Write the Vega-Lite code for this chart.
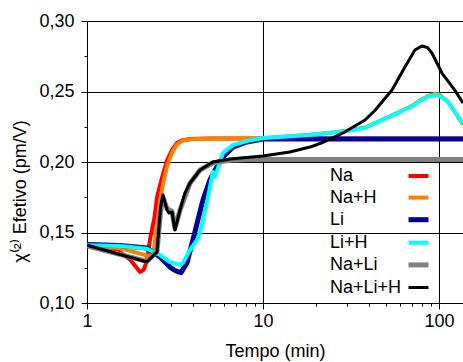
{
  "$schema": "https://vega.github.io/schema/vega-lite/v6.json",
  "width": 376,
  "height": 282,
  "autosize": "none",
  "padding": {"left": 87, "top": 21, "right": 0, "bottom": 59},
  "background": "white",
  "config": {
    "view": {"stroke": null},
    "font": "Liberation Sans",
    "axis": {
      "domainColor": "black",
      "tickColor": "black",
      "labelColor": "black",
      "titleColor": "black",
      "labelFont": "Liberation Sans",
      "titleFont": "Liberation Sans",
      "labelFontSize": 18,
      "titleFontSize": 18,
      "titleFontWeight": "normal",
      "gridColor": "black",
      "gridWidth": 1
    },
    "legend": {"labelFont": "Liberation Sans"}
  },
  "data": {"values": [
    {"s": "Na", "t": 1, "v": 0.141},
    {"s": "Na", "t": 1.3, "v": 0.1385},
    {"s": "Na", "t": 1.54, "v": 0.136},
    {"s": "Na", "t": 1.75, "v": 0.131},
    {"s": "Na", "t": 1.9, "v": 0.1255},
    {"s": "Na", "t": 2.0, "v": 0.122},
    {"s": "Na", "t": 2.1, "v": 0.1235},
    {"s": "Na", "t": 2.19, "v": 0.13},
    {"s": "Na", "t": 2.28, "v": 0.145},
    {"s": "Na", "t": 2.42, "v": 0.161},
    {"s": "Na", "t": 2.5, "v": 0.175},
    {"s": "Na", "t": 2.67, "v": 0.189},
    {"s": "Na", "t": 2.85, "v": 0.201},
    {"s": "Na", "t": 3.04, "v": 0.2085},
    {"s": "Na", "t": 3.25, "v": 0.2135},
    {"s": "Na", "t": 3.5, "v": 0.2155},
    {"s": "Na", "t": 3.85, "v": 0.2163},
    {"s": "Na", "t": 5, "v": 0.2167},
    {"s": "Na", "t": 10, "v": 0.2167},
    {"s": "Na", "t": 137, "v": 0.2167},

    {"s": "Na+H", "t": 1, "v": 0.141},
    {"s": "Na+H", "t": 1.54, "v": 0.139},
    {"s": "Na+H", "t": 2.0, "v": 0.135},
    {"s": "Na+H", "t": 2.28, "v": 0.133},
    {"s": "Na+H", "t": 2.4, "v": 0.138},
    {"s": "Na+H", "t": 2.5, "v": 0.155},
    {"s": "Na+H", "t": 2.6, "v": 0.172},
    {"s": "Na+H", "t": 2.7, "v": 0.184},
    {"s": "Na+H", "t": 2.85, "v": 0.197},
    {"s": "Na+H", "t": 3.04, "v": 0.2065},
    {"s": "Na+H", "t": 3.25, "v": 0.2125},
    {"s": "Na+H", "t": 3.5, "v": 0.2152},
    {"s": "Na+H", "t": 4, "v": 0.2163},
    {"s": "Na+H", "t": 6, "v": 0.2167},
    {"s": "Na+H", "t": 10, "v": 0.2168},
    {"s": "Na+H", "t": 12.5, "v": 0.2178},
    {"s": "Na+H", "t": 18.5, "v": 0.2193},
    {"s": "Na+H", "t": 24, "v": 0.2208},
    {"s": "Na+H", "t": 30, "v": 0.2222},
    {"s": "Na+H", "t": 38, "v": 0.2245},
    {"s": "Na+H", "t": 46.2, "v": 0.2292},
    {"s": "Na+H", "t": 58.5, "v": 0.235},
    {"s": "Na+H", "t": 71.2, "v": 0.2402},
    {"s": "Na+H", "t": 78, "v": 0.2438},
    {"s": "Na+H", "t": 88.7, "v": 0.2473},
    {"s": "Na+H", "t": 95, "v": 0.2482},
    {"s": "Na+H", "t": 100, "v": 0.248},
    {"s": "Na+H", "t": 105, "v": 0.2458},
    {"s": "Na+H", "t": 112.5, "v": 0.2428},
    {"s": "Na+H", "t": 123, "v": 0.2355},
    {"s": "Na+H", "t": 137, "v": 0.2265},

    {"s": "Li", "t": 1, "v": 0.1415},
    {"s": "Li", "t": 1.54, "v": 0.1408},
    {"s": "Li", "t": 2.19, "v": 0.139},
    {"s": "Li", "t": 2.6, "v": 0.1326},
    {"s": "Li", "t": 2.96, "v": 0.1255},
    {"s": "Li", "t": 3.2, "v": 0.1227},
    {"s": "Li", "t": 3.42, "v": 0.1215},
    {"s": "Li", "t": 3.7, "v": 0.1284},
    {"s": "Li", "t": 4.0, "v": 0.1447},
    {"s": "Li", "t": 4.27, "v": 0.1589},
    {"s": "Li", "t": 4.56, "v": 0.173},
    {"s": "Li", "t": 4.99, "v": 0.1872},
    {"s": "Li", "t": 5.47, "v": 0.1965},
    {"s": "Li", "t": 5.93, "v": 0.2035},
    {"s": "Li", "t": 6.75, "v": 0.2106},
    {"s": "Li", "t": 8.11, "v": 0.2142},
    {"s": "Li", "t": 10, "v": 0.2163},
    {"s": "Li", "t": 137, "v": 0.2163},

    {"s": "Li+H", "t": 1, "v": 0.141},
    {"s": "Li+H", "t": 1.54, "v": 0.1405},
    {"s": "Li+H", "t": 2.19, "v": 0.1385},
    {"s": "Li+H", "t": 2.6, "v": 0.134},
    {"s": "Li+H", "t": 2.96, "v": 0.129},
    {"s": "Li+H", "t": 3.38, "v": 0.127},
    {"s": "Li+H", "t": 3.51, "v": 0.1284},
    {"s": "Li+H", "t": 3.85, "v": 0.1376},
    {"s": "Li+H", "t": 4.22, "v": 0.1447},
    {"s": "Li+H", "t": 4.39, "v": 0.1496},
    {"s": "Li+H", "t": 4.56, "v": 0.1589},
    {"s": "Li+H", "t": 4.8, "v": 0.1709},
    {"s": "Li+H", "t": 5.13, "v": 0.1894},
    {"s": "Li+H", "t": 5.2, "v": 0.1929},
    {"s": "Li+H", "t": 5.34, "v": 0.1894},
    {"s": "Li+H", "t": 5.55, "v": 0.1957},
    {"s": "Li+H", "t": 5.93, "v": 0.2064},
    {"s": "Li+H", "t": 6.75, "v": 0.212},
    {"s": "Li+H", "t": 8.11, "v": 0.2149},
    {"s": "Li+H", "t": 10, "v": 0.217},
    {"s": "Li+H", "t": 12.5, "v": 0.2177},
    {"s": "Li+H", "t": 18.5, "v": 0.2191},
    {"s": "Li+H", "t": 24, "v": 0.2206},
    {"s": "Li+H", "t": 30, "v": 0.222},
    {"s": "Li+H", "t": 38, "v": 0.2241},
    {"s": "Li+H", "t": 46.2, "v": 0.229},
    {"s": "Li+H", "t": 58.5, "v": 0.2348},
    {"s": "Li+H", "t": 71.2, "v": 0.2397},
    {"s": "Li+H", "t": 78, "v": 0.2433},
    {"s": "Li+H", "t": 88.7, "v": 0.2468},
    {"s": "Li+H", "t": 97.4, "v": 0.2475},
    {"s": "Li+H", "t": 105, "v": 0.2454},
    {"s": "Li+H", "t": 112.5, "v": 0.2426},
    {"s": "Li+H", "t": 123, "v": 0.2355},
    {"s": "Li+H", "t": 137, "v": 0.227},

    {"s": "Na+Li", "t": 1, "v": 0.1405},
    {"s": "Na+Li", "t": 2.19, "v": 0.1295},
    {"s": "Na+Li", "t": 2.5, "v": 0.1365},
    {"s": "Na+Li", "t": 2.62, "v": 0.165},
    {"s": "Na+Li", "t": 2.7, "v": 0.175},
    {"s": "Na+Li", "t": 2.85, "v": 0.167},
    {"s": "Na+Li", "t": 3.04, "v": 0.165},
    {"s": "Na+Li", "t": 3.16, "v": 0.153},
    {"s": "Na+Li", "t": 3.38, "v": 0.166},
    {"s": "Na+Li", "t": 3.85, "v": 0.185},
    {"s": "Na+Li", "t": 4.39, "v": 0.1943},
    {"s": "Na+Li", "t": 5.2, "v": 0.1995},
    {"s": "Na+Li", "t": 6.5, "v": 0.2013},
    {"s": "Na+Li", "t": 8, "v": 0.2018},
    {"s": "Na+Li", "t": 10, "v": 0.2018},
    {"s": "Na+Li", "t": 137, "v": 0.2018},

    {"s": "Na+Li+H", "t": 1, "v": 0.141},
    {"s": "Na+Li+H", "t": 2.19, "v": 0.1291},
    {"s": "Na+Li+H", "t": 2.5, "v": 0.1362},
    {"s": "Na+Li+H", "t": 2.62, "v": 0.168},
    {"s": "Na+Li+H", "t": 2.7, "v": 0.1766},
    {"s": "Na+Li+H", "t": 2.85, "v": 0.166},
    {"s": "Na+Li+H", "t": 2.92, "v": 0.1638},
    {"s": "Na+Li+H", "t": 3.04, "v": 0.1645},
    {"s": "Na+Li+H", "t": 3.16, "v": 0.1518},
    {"s": "Na+Li+H", "t": 3.38, "v": 0.166},
    {"s": "Na+Li+H", "t": 3.6, "v": 0.178},
    {"s": "Na+Li+H", "t": 3.85, "v": 0.1851},
    {"s": "Na+Li+H", "t": 4.39, "v": 0.1943},
    {"s": "Na+Li+H", "t": 5.2, "v": 0.2},
    {"s": "Na+Li+H", "t": 6.49, "v": 0.2021},
    {"s": "Na+Li+H", "t": 10, "v": 0.2043},
    {"s": "Na+Li+H", "t": 14.2, "v": 0.2071},
    {"s": "Na+Li+H", "t": 18.5, "v": 0.2106},
    {"s": "Na+Li+H", "t": 22, "v": 0.214},
    {"s": "Na+Li+H", "t": 28.5, "v": 0.2206},
    {"s": "Na+Li+H", "t": 38, "v": 0.2298},
    {"s": "Na+Li+H", "t": 43.5, "v": 0.2369},
    {"s": "Na+Li+H", "t": 54.1, "v": 0.2511},
    {"s": "Na+Li+H", "t": 64.1, "v": 0.2674},
    {"s": "Na+Li+H", "t": 73, "v": 0.2794},
    {"s": "Na+Li+H", "t": 80, "v": 0.2823},
    {"s": "Na+Li+H", "t": 86, "v": 0.2812},
    {"s": "Na+Li+H", "t": 91.2, "v": 0.2773},
    {"s": "Na+Li+H", "t": 104, "v": 0.2631},
    {"s": "Na+Li+H", "t": 123, "v": 0.251},
    {"s": "Na+Li+H", "t": 137, "v": 0.2418}
  ]},
  "mark": {"type": "line", "clip": true, "strokeJoin": "round", "strokeCap": "butt"},
  "encoding": {
    "x": {
      "field": "t", "type": "quantitative",
      "scale": {"type": "log", "domain": [1, 137], "nice": false},
      "axis": {
        "title": "Tempo (min)",
        "values": [1, 2, 3, 4, 5, 6, 7, 8, 9, 10, 20, 30, 40, 50, 60, 70, 80, 90, 100],
        "labelExpr": "(datum.value == 1 || datum.value == 10 || datum.value == 100) ? format(datum.value, 'd') : ''",
        "tickSize": {"condition": {"test": "datum.value == 1 || datum.value == 10 || datum.value == 100", "value": 6}, "value": 3},
        "grid": true,
        "gridOpacity": {"condition": {"test": "datum.value == 10 || datum.value == 100", "value": 1}, "value": 0},
        "labelPadding": 3,
        "labelFlush": false,
        "labelOverlap": false,
        "titlePadding": 12
      }
    },
    "y": {
      "field": "v", "type": "quantitative",
      "scale": {"domain": [0.1, 0.3], "nice": false, "zero": false},
      "axis": {
        "title": "χ⁽²⁾ Efetivo (pm/V)",
        "values": [0.1, 0.125, 0.15, 0.175, 0.2, 0.225, 0.25, 0.275, 0.3],
        "labelExpr": "abs(datum.value * 20 - round(datum.value * 20)) < 0.001 ? replace(format(datum.value, '.2f'), '.', ',') : ''",
        "tickSize": {"condition": {"test": "abs(datum.value * 20 - round(datum.value * 20)) < 0.001", "value": 6}, "value": 3},
        "grid": true,
        "gridOpacity": {"condition": {"test": "abs(datum.value * 20 - round(datum.value * 20)) < 0.001", "value": 1}, "value": 0},
        "labelPadding": 7,
        "labelFlush": false,
        "labelOverlap": false,
        "titleX": -67,
        "titleY": 170,
        "titleBaseline": "middle",
        "titleAlign": "center",
        "titleAngle": -90
      }
    },
    "color": {
      "field": "s", "type": "nominal",
      "scale": {
        "domain": ["Na", "Na+H", "Li", "Li+H", "Na+Li", "Na+Li+H"],
        "range": ["#ff0000", "#ff8000", "#000099", "#00ffff", "#808080", "#000000"]
      },
      "legend": {
        "title": null,
        "orient": "none",
        "legendX": 319,
        "legendY": 143,
        "padding": 0,
        "symbolType": "stroke",
        "symbolStrokeWidth": 4,
        "symbolSize": 400,
        "labelFontSize": 18,
        "labelColor": "black",
        "labelAlign": "left",
        "labelOffset": -101,
        "labelLimit": 0,
        "rowPadding": 0.6
      }
    },
    "strokeWidth": {
      "field": "s", "type": "nominal",
      "scale": {
        "type": "ordinal",
        "domain": ["Na", "Na+H", "Li", "Li+H", "Na+Li", "Na+Li+H"],
        "range": [4, 4, 5, 4, 5, 3]
      },
      "legend": null
    }
  }
}
